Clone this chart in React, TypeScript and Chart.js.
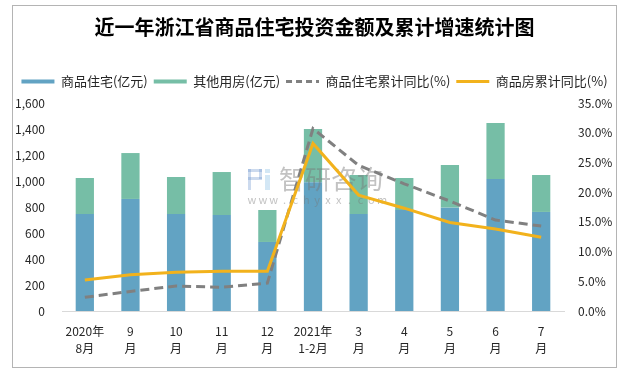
import React, { useEffect, useRef } from 'react';
import { Chart, registerables } from 'chart.js';

Chart.register(...registerables);

const categories: string[][] = [
  ['2020年', '8月'], ['9', '月'], ['10', '月'], ['11', '月'], ['12', '月'],
  ['2021年', '1-2月'], ['3', '月'], ['4', '月'], ['5', '月'], ['6', '月'], ['7', '月'],
];
const residentialInvest = [746, 862, 746, 738, 531, 990, 746, 777, 795, 1015, 762];
const otherInvest = [277, 353, 285, 331, 246, 410, 300, 246, 328, 431, 284];
const residentialYoY = [2.3, 3.3, 4.2, 4.0, 4.7, 30.7, 24.5, 21.4, 18.5, 15.3, 14.3];
const commercialYoY = [5.2, 6.1, 6.5, 6.7, 6.7, 28.2, 19.5, 17.3, 14.9, 13.8, 12.4];

const seriesNames = ['商品住宅(亿元)', '其他用房(亿元)', '商品住宅累计同比(%)', '商品房累计同比(%)'];
const titleText = '近一年浙江省商品住宅投资金额及累计增速统计图';

const BLUE = '#62a3c3';
const GREEN = '#76bea6';
const GRAY = '#808080';
const ORANGE = '#f2b21c';
const FONT = "'Noto Sans CJK SC', 'Noto Sans', sans-serif";
const TICK = '#262626';

const watermark = {
  id: 'watermark',
  beforeDatasetDraw(chart: any, args: any) {
    if (args.index !== 2) return;
    const ctx = chart.ctx;
    ctx.save();
    ctx.fillStyle = 'rgba(110,150,205,0.35)';
    ctx.fillRect(235, 163, 14, 3);
    ctx.fillRect(246, 163, 3, 10);
    ctx.fillRect(235, 171, 14, 3);
    ctx.fillRect(235, 163, 3, 21);
    ctx.fillStyle = 'rgba(130,185,225,0.35)';
    ctx.fillRect(252, 163, 5, 4);
    ctx.fillRect(252, 169, 5, 15);
    ctx.fillStyle = 'rgba(120,120,120,0.45)';
    ctx.font = `26px ${FONT}`;
    ctx.textBaseline = 'middle';
    ctx.textAlign = 'left';
    ctx.fillText('智研咨询', 266, 173);
    ctx.font = `11px ${FONT}`;
    ctx.textAlign = 'center';
    const s = 'www.chyxx.com';
    for (let i = 0; i < s.length; i++) {
      ctx.fillText(s[i], 239 + i * 10.85, 194);
    }
    ctx.restore();
  },
};

export default function App() {
  const ref = useRef<HTMLCanvasElement | null>(null);

  useEffect(() => {
    if (!ref.current) return;
    const chart = new Chart(ref.current, {
      type: 'bar',
      data: {
        labels: categories,
        datasets: [
          {
            type: 'bar',
            label: seriesNames[0],
            data: residentialInvest,
            backgroundColor: BLUE,
            yAxisID: 'y',
            stack: 's',
            order: 2,
            categoryPercentage: 1,
            barPercentage: 0.4,
          },
          {
            type: 'bar',
            label: seriesNames[1],
            data: otherInvest,
            backgroundColor: GREEN,
            yAxisID: 'y',
            stack: 's',
            order: 2,
            categoryPercentage: 1,
            barPercentage: 0.4,
          },
          {
            type: 'line',
            label: seriesNames[2],
            data: residentialYoY,
            borderColor: GRAY,
            backgroundColor: GRAY,
            borderWidth: 3,
            borderDash: [9, 5],
            pointRadius: 0,
            tension: 0,
            yAxisID: 'y1',
            order: 1,
          },
          {
            type: 'line',
            label: seriesNames[3],
            data: commercialYoY,
            borderColor: ORANGE,
            backgroundColor: ORANGE,
            borderWidth: 3,
            pointRadius: 0,
            tension: 0,
            yAxisID: 'y1',
            order: 0,
          },
        ],
      } as any,
      options: {
        responsive: false,
        animation: false,
        devicePixelRatio: 1,
        layout: { padding: 0 },
        plugins: {
          title: {
            display: true,
            text: titleText,
            color: '#000',
            font: { family: FONT, size: 20, weight: 'bold', lineHeight: 1.2 },
            padding: { top: 9.5, bottom: 29.5 },
          },
          subtitle: {
            display: true,
            text: ' ',
            weight: 500,
            position: 'top',
            font: { size: 1, lineHeight: 1 },
            padding: { top: 0, bottom: 4 },
          } as any,
          legend: {
            display: true,
            position: 'top',
            labels: {
              usePointStyle: true,
              pointStyleWidth: 33,
              boxHeight: 13,
              padding: 6,
              color: TICK,
              font: { family: FONT, size: 13 },
              generateLabels: () => [
                { text: seriesNames[0], fillStyle: BLUE, strokeStyle: BLUE, lineWidth: 4, lineDash: [], pointStyle: 'line', hidden: false, datasetIndex: 0, fontColor: TICK },
                { text: seriesNames[1], fillStyle: GREEN, strokeStyle: GREEN, lineWidth: 4, lineDash: [], pointStyle: 'line', hidden: false, datasetIndex: 1, fontColor: TICK },
                { text: seriesNames[2], fillStyle: GRAY, strokeStyle: GRAY, lineWidth: 3, lineDash: [6, 4], pointStyle: 'line', hidden: false, datasetIndex: 2, fontColor: TICK },
                { text: seriesNames[3], fillStyle: ORANGE, strokeStyle: ORANGE, lineWidth: 3, lineDash: [], pointStyle: 'line', hidden: false, datasetIndex: 3, fontColor: TICK },
              ] as any,
            },
          },
          tooltip: { enabled: false },
        },
        scales: {
          x: {
            stacked: true,
            grid: { display: false, drawTicks: false },
            border: { display: true, color: '#d9d9d9', width: 1 },
            ticks: {
              color: TICK,
              padding: 12,
              maxRotation: 0,
              autoSkip: false,
              font: { family: FONT, size: 12, lineHeight: 1.4 },
            },
            afterFit: (s: any) => { s.height = 56; },
          },
          y: {
            stacked: true,
            position: 'left',
            min: 0,
            max: 1600,
            grid: { display: false, drawTicks: false },
            border: { display: false },
            ticks: {
              stepSize: 200,
              color: TICK,
              padding: 17,
              font: { family: FONT, size: 12 },
              callback: (v: any) => Number(v).toLocaleString('en-US'),
            },
            afterFit: (s: any) => { s.width = 49; },
          },
          y1: {
            position: 'right',
            min: 0,
            max: 35,
            grid: { display: false, drawTicks: false },
            border: { display: false },
            ticks: {
              stepSize: 5,
              color: TICK,
              padding: 14,
              font: { family: FONT, size: 12 },
              callback: (v: any) => `${Number(v).toFixed(1)}%`,
            },
            afterFit: (s: any) => { s.width = 52; },
          },
        },
      } as any,
      plugins: [watermark],
    });
    return () => chart.destroy();
  }, []);

  return (
    <div
      style={{
        position: 'absolute',
        left: 12,
        top: 5,
        width: 605,
        height: 363,
        border: '1px solid #b4b4b4',
        boxSizing: 'border-box',
        background: '#fff',
      }}
    >
      <canvas ref={ref} width={603} height={361} style={{ display: 'block', width: 603, height: 361 }} />
    </div>
  );
}
